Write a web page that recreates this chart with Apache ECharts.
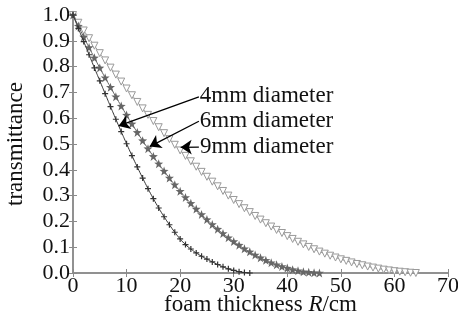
<!DOCTYPE html>
<html>
<head>
<meta charset="utf-8">
<script src="https://cdn.jsdelivr.net/npm/echarts@6/dist/echarts.min.js"></script>
<style>html,body{margin:0;padding:0;background:#fff}#c{width:458px;height:323px}</style>
</head>
<body>
<div id="c"></div>
<script>
// thickness step = 1 cm, value index = thickness in cm
const t4mm = [1.000,0.948,0.897,0.846,0.795,0.745,0.695,0.645,0.596,0.548,0.501,0.455,0.411,0.368,0.327,0.288,0.252,0.218,0.187,0.158,0.132,0.110,0.093,0.078,0.065,0.054,0.043,0.033,0.024,0.016,0.010,0.005,0.002,0.000];
const t6mm = [1.000,0.957,0.915,0.874,0.834,0.795,0.757,0.720,0.683,0.647,0.612,0.578,0.545,0.513,0.482,0.452,0.423,0.395,0.368,0.342,0.317,0.293,0.270,0.248,0.227,0.207,0.188,0.170,0.153,0.137,0.122,0.108,0.094,0.082,0.070,0.059,0.049,0.040,0.032,0.025,0.019,0.013,0.009,0.005,0.003,0.001,0.000];
const t9mm = [1.000,0.970,0.940,0.910,0.881,0.852,0.824,0.796,0.769,0.742,0.715,0.689,0.663,0.638,0.613,0.589,0.565,0.542,0.519,0.497,0.475,0.454,0.433,0.412,0.392,0.373,0.354,0.336,0.318,0.300,0.283,0.267,0.251,0.236,0.221,0.207,0.193,0.180,0.167,0.155,0.143,0.132,0.121,0.111,0.101,0.092,0.083,0.075,0.067,0.060,0.053,0.047,0.041,0.035,0.030,0.025,0.021,0.017,0.013,0.010,0.007,0.005,0.003,0.001,0.000];

const seriesNames = ['4mm diameter','6mm diameter','9mm diameter'];
// annotation arrows: text anchor point and arrow tip, in data coordinates
const labelAnchors = [[23.5,0.683],[23.5,0.588],[23.5,0.488]];
const arrowTips = [[8.5,0.57],[14.3,0.49],[20.1,0.487]];

const xTicks = {min:0,max:70,interval:10};
const yTicks = {min:0,max:1,interval:0.1};

const FONT = 'Liberation Serif';
const axisGray = '#8a8a8a';

const plusPath = 'path://M4,0H6V4H10V6H6V10H4V6H0V4H4Z';
const starPath = 'path://M5,0L6.2,3.4L10,3.5L7,5.8L8.1,9.5L5,7.3L1.9,9.5L3,5.8L0,3.5L3.8,3.4Z';

function toPairs(arr){ return arr.map((v,i)=>[i,v]); }

function arrow(i){
  return {
    silent:true,
    symbol:['none','arrow'],
    symbolSize:11,
    lineStyle:{color:'#000',width:1.3,type:'solid'},
    label:{show:true,position:'start',distance:1,formatter:seriesNames[i],
      fontFamily:FONT,fontSize:23,color:'#111'},
    data:[[{coord:labelAnchors[i]},{coord:arrowTips[i]}]]
  };
}

const styles = [
  {symbol:plusPath,size:6,color:'#333',line:'#333',border:'#333'},
  {symbol:starPath,size:9,color:'#666',line:'#666',border:'#666'},
  {symbol:'triangle',size:7,color:'#fff',line:'#9a9a9a',border:'#9a9a9a',rotate:180}
];
const dataSets = [t4mm,t6mm,t9mm];

const chart = echarts.init(document.getElementById('c'),null,{renderer:'canvas'});
chart.setOption({
  animation:false,
  backgroundColor:'#fff',
  grid:{left:73,right:10,top:15,bottom:50,containLabel:false,outerBoundsMode:'none'},
  xAxis:[{
    type:'value',min:xTicks.min,max:xTicks.max,interval:xTicks.interval,
    name:'foam thickness {i|R}/cm',nameLocation:'middle',nameGap:20,nameMoveOverlap:false,
    nameTextStyle:{fontFamily:FONT,fontSize:23,color:'#111',rich:{i:{fontStyle:'italic',fontFamily:FONT,fontSize:23,color:'#111'}}},
    axisLine:{lineStyle:{color:axisGray,width:1.5}},
    axisTick:{inside:true,length:4,lineStyle:{color:axisGray}},
    axisLabel:{fontFamily:FONT,fontSize:22,color:'#111',margin:2},
    splitLine:{show:false}
  },{
    type:'value',position:'top',min:xTicks.min,max:xTicks.max,interval:xTicks.interval,
    axisLine:{show:true,lineStyle:{color:axisGray,width:1.5}},
    axisTick:{inside:true,length:4,lineStyle:{color:axisGray}},
    axisLabel:{show:false},splitLine:{show:false}
  }],
  yAxis:[{
    type:'value',min:yTicks.min,max:yTicks.max,interval:yTicks.interval,
    name:'transmittance',nameLocation:'middle',nameGap:46,nameMoveOverlap:false,
    nameTextStyle:{fontFamily:FONT,fontSize:23,color:'#111'},
    axisLine:{show:true,lineStyle:{color:axisGray,width:1.5}},
    axisTick:{inside:true,length:4,lineStyle:{color:axisGray}},
    axisLabel:{fontFamily:FONT,fontSize:22,color:'#111',margin:3,formatter:v=>v.toFixed(1)},
    splitLine:{show:false}
  },{
    type:'value',position:'right',min:yTicks.min,max:yTicks.max,interval:yTicks.interval,
    axisLine:{show:true,lineStyle:{color:axisGray,width:1.5}},
    axisTick:{inside:true,length:4,lineStyle:{color:axisGray}},
    axisLabel:{show:false},splitLine:{show:false}
  }],
  series:dataSets.map((d,i)=>({
    name:seriesNames[i],type:'line',smooth:true,
    data:toPairs(d),
    symbol:styles[i].symbol,symbolSize:styles[i].size,symbolRotate:styles[i].rotate||0,
    showAllSymbol:true,
    lineStyle:{color:styles[i].line,width:1},
    itemStyle:{color:styles[i].color,borderColor:styles[i].border,borderWidth:i===2?1:0},
    markLine:arrow(i),
    z:3-i
  }))
});
</script>
</body>
</html>
